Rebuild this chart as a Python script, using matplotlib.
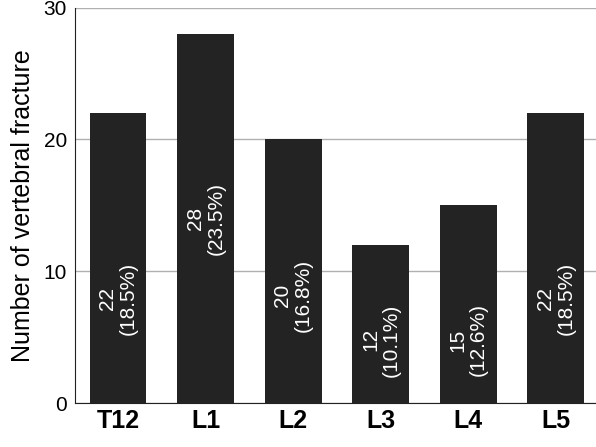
import matplotlib
matplotlib.use("Agg")
import matplotlib.pyplot as plt

plt.rcParams['font.family'] = ['Liberation Sans', 'DejaVu Sans']

categories = ["T12", "L1", "L2", "L3", "L4", "L5"]
counts = [22, 28, 20, 12, 15, 22]
percents = ["18.5%", "23.5%", "16.8%", "10.1%", "12.6%", "18.5%"]
label_frac = [0.36, 0.5, 0.41, 0.4, 0.32, 0.36]

fig = plt.figure(figsize=(5.96, 4.47), dpi=100)
ax = fig.add_axes([0.126, 0.098, 0.874, 0.885])
x = range(len(categories))
ax.bar(x, counts, width=0.65, color="#232323", zorder=3)
for i, (c, p, f) in enumerate(zip(counts, percents, label_frac)):
    ax.text(i, c * f, f"{c}\n({p})", rotation=90, ha="center", va="center",
            color="white", fontsize=15, zorder=4, linespacing=1.1)
ax.set_ylim(0, 30)
ax.set_xlim(-0.49, 5.46)
ax.set_yticks([0, 10, 20, 30])
ax.yaxis.grid(True, color="#b0b0b0", linewidth=1, zorder=0)
ax.set_xticks(list(x))
ax.set_xticklabels(categories, fontsize=18, fontweight="bold")
ax.tick_params(axis="y", labelsize=15, length=0, pad=6)
ax.tick_params(axis="x", length=0, pad=4)
for s in ["top", "right"]:
    ax.spines[s].set_visible(False)
ax.spines["left"].set_color("#222222")
ax.spines["bottom"].set_color("#222222")
ax.set_ylabel("Number of vertebral fracture", fontsize=18, labelpad=6)
fig.savefig("out.png", dpi=100)
